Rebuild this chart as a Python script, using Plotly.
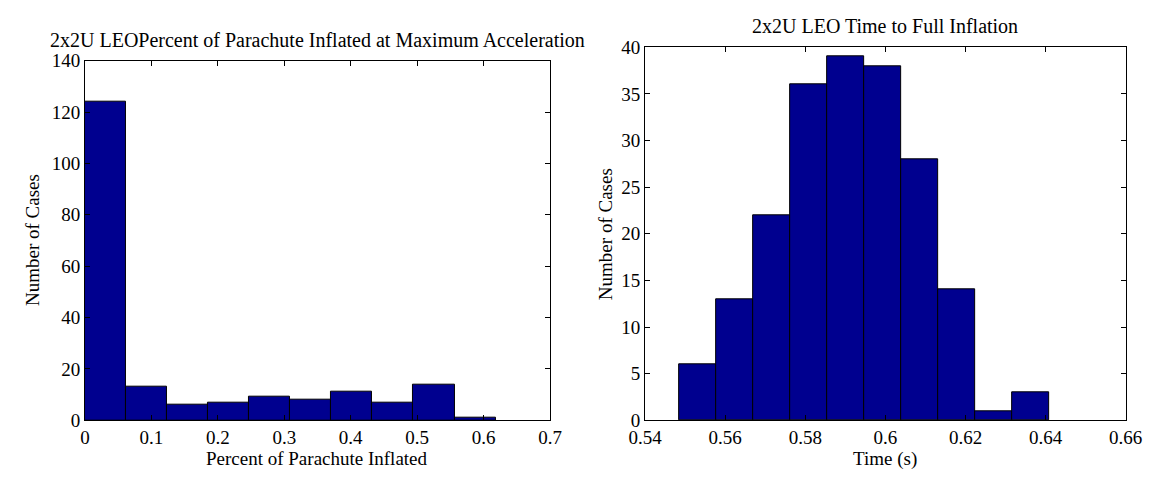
import plotly.graph_objects as go

# Left histogram: percent of parachute inflated at max acceleration
left_counts = [124, 13, 6, 7, 9, 8, 11, 7, 14, 1]
left_bin_range = [0.0, 0.618]
left_xticks = [0, 0.1, 0.2, 0.3, 0.4, 0.5, 0.6, 0.7]
left_xticklabels = ["0", "0.1", "0.2", "0.3", "0.4", "0.5", "0.6", "0.7"]
left_yticks = [0, 20, 40, 60, 80, 100, 120, 140]

# Right histogram: time to full inflation
right_counts = [6, 13, 22, 36, 39, 38, 28, 14, 1, 3]
right_bin_range = [0.5486, 0.6409]
right_xticks = [0.54, 0.56, 0.58, 0.60, 0.62, 0.64, 0.66]
right_xticklabels = ["0.54", "0.56", "0.58", "0.6", "0.62", "0.64", "0.66"]
right_yticks = [0, 5, 10, 15, 20, 25, 30, 35, 40]

left_title = "2x2U LEOPercent of Parachute Inflated at Maximum Acceleration"
right_title = "2x2U LEO Time to Full Inflation"
left_xlabel = "Percent of Parachute Inflated"
right_xlabel = "Time (s)"
ylabel = "Number of Cases"

W, H = 1167, 481
FONT = "Liberation Serif, Times New Roman, serif"
BAR = "rgb(0,0,143)"


def centers(rng, n):
    w = (rng[1] - rng[0]) / n
    return [rng[0] + w * (i + 0.5) for i in range(n)], w


lc, lw = centers(left_bin_range, len(left_counts))
rc, rw = centers(right_bin_range, len(right_counts))

fig = go.Figure()
fig.add_trace(go.Bar(x=lc, y=left_counts, width=lw, marker=dict(color=BAR, line=dict(color="black", width=1)),
                     xaxis="x", yaxis="y", showlegend=False))
fig.add_trace(go.Bar(x=rc, y=right_counts, width=rw, marker=dict(color=BAR, line=dict(color="black", width=1)),
                     xaxis="x2", yaxis="y2", showlegend=False))


def px(x):
    return x / W


def py(y):
    return 1 - y / H


axis_common = dict(showline=True, linecolor="black", linewidth=1, mirror="ticks", ticks="inside",
                   ticklen=5, tickcolor="black", showgrid=False, zeroline=False,
                   tickfont=dict(family=FONT, size=19, color="black"))

fig.update_layout(
    width=W, height=H, margin=dict(l=0, r=0, t=0, b=0),
    paper_bgcolor="white", plot_bgcolor="white", bargap=0,
    font=dict(family=FONT, color="black"),
    xaxis=dict(domain=[px(70), px(549)], range=[0, 0.7], tickvals=left_xticks, ticktext=left_xticklabels,
               anchor="y", **axis_common),
    yaxis=dict(domain=[py(429), py(53)], range=[0, 140], tickvals=left_yticks, anchor="x", **axis_common),
    xaxis2=dict(domain=[px(647), px(1142)], range=[0.54, 0.66], tickvals=right_xticks, ticktext=right_xticklabels,
                anchor="y2", **axis_common),
    yaxis2=dict(domain=[py(429), py(39)], range=[0, 40], tickvals=right_yticks, anchor="x2", **axis_common),
)

ann = [
    dict(text=left_title, x=px(309.5), y=py(31), size=20, angle=0),
    dict(text=right_title, x=px(894.5), y=py(17), size=20, angle=0),
    dict(text=left_xlabel, x=px(309.5), y=py(469), size=19, angle=0),
    dict(text=right_xlabel, x=px(894.5), y=py(469), size=19, angle=0),
    dict(text=ylabel, x=px(16), y=py(241), size=19, angle=-90),
    dict(text=ylabel, x=px(606), y=py(234), size=19, angle=-90),
]
for a in ann:
    fig.add_annotation(text=a["text"], x=a["x"], y=a["y"], xref="paper", yref="paper", showarrow=False,
                       xanchor="center", yanchor="middle", textangle=a["angle"],
                       font=dict(family=FONT, size=a["size"], color="black"))

fig.write_html("out.html")
